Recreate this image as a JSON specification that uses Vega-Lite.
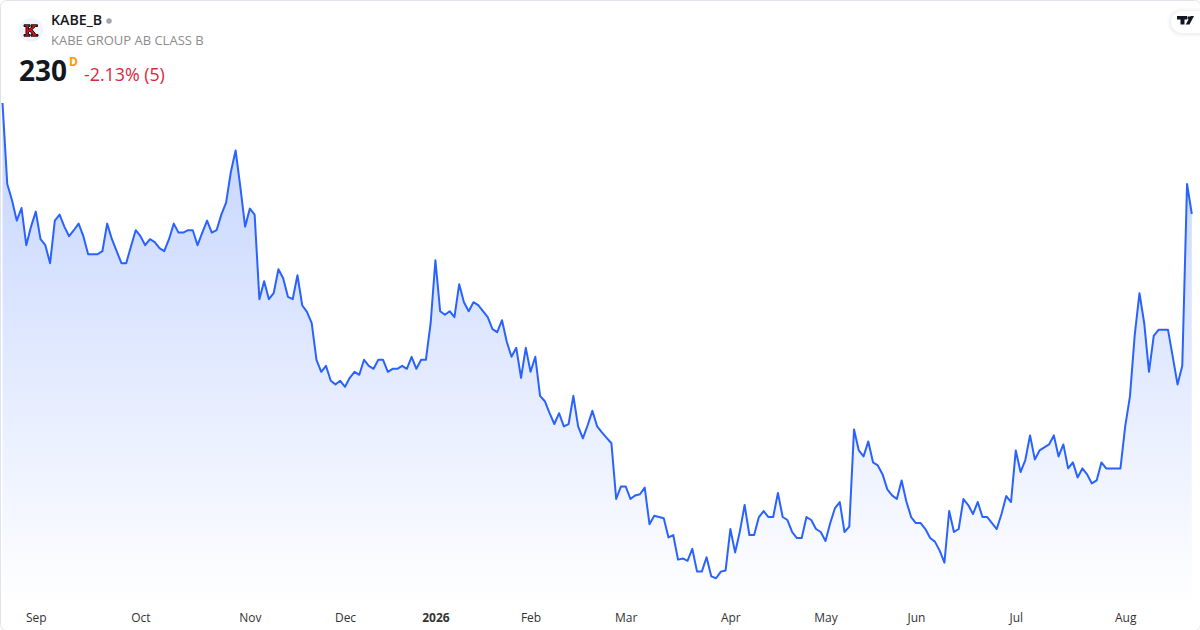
{
  "$schema": "https://vega.github.io/schema/vega-lite/v6.json",
  "width": 1200,
  "height": 630,
  "padding": 0,
  "autosize": "none",
  "background": "white",
  "config": {
    "view": {"stroke": "#e0e3eb", "cornerRadius": 6},
    "font": "Open Sans"
  },
  "datasets": {
    "prices": [
      {"date":"2025-08-21","close":248.5},{"date":"2025-08-22","close":235.0},{"date":"2025-08-25","close":232.3},{"date":"2025-08-26","close":228.9},{"date":"2025-08-27","close":231.0},{"date":"2025-08-28","close":224.8},{"date":"2025-08-29","close":227.9},
      {"date":"2025-09-01","close":230.4},{"date":"2025-09-02","close":225.8},{"date":"2025-09-03","close":224.8},{"date":"2025-09-04","close":221.8},{"date":"2025-09-05","close":228.9},{"date":"2025-09-08","close":229.9},{"date":"2025-09-09","close":227.9},{"date":"2025-09-10","close":226.3},{"date":"2025-09-11","close":227.3},{"date":"2025-09-12","close":228.4},{"date":"2025-09-15","close":226.3},{"date":"2025-09-16","close":223.3},{"date":"2025-09-17","close":223.3},{"date":"2025-09-18","close":223.3},{"date":"2025-09-19","close":223.8},{"date":"2025-09-22","close":228.4},{"date":"2025-09-23","close":225.8},{"date":"2025-09-24","close":223.8},{"date":"2025-09-25","close":221.8},{"date":"2025-09-26","close":221.8},{"date":"2025-09-29","close":224.6},{"date":"2025-09-30","close":227.3},
      {"date":"2025-10-01","close":226.3},{"date":"2025-10-02","close":224.8},{"date":"2025-10-03","close":225.8},{"date":"2025-10-06","close":225.3},{"date":"2025-10-07","close":224.3},{"date":"2025-10-08","close":223.8},{"date":"2025-10-09","close":225.8},{"date":"2025-10-10","close":228.4},{"date":"2025-10-13","close":226.9},{"date":"2025-10-14","close":226.9},{"date":"2025-10-15","close":227.3},{"date":"2025-10-16","close":227.3},{"date":"2025-10-17","close":224.8},{"date":"2025-10-20","close":226.9},{"date":"2025-10-21","close":228.9},{"date":"2025-10-22","close":226.9},{"date":"2025-10-23","close":227.3},{"date":"2025-10-24","close":229.9},{"date":"2025-10-27","close":231.9},{"date":"2025-10-28","close":237.0},{"date":"2025-10-29","close":240.6},{"date":"2025-10-30","close":234.5},{"date":"2025-10-31","close":227.9},
      {"date":"2025-11-03","close":230.9},{"date":"2025-11-04","close":229.9},{"date":"2025-11-05","close":215.8},{"date":"2025-11-06","close":218.8},{"date":"2025-11-07","close":215.8},{"date":"2025-11-10","close":216.8},{"date":"2025-11-11","close":220.8},{"date":"2025-11-12","close":219.3},{"date":"2025-11-13","close":216.2},{"date":"2025-11-14","close":215.8},{"date":"2025-11-17","close":219.8},{"date":"2025-11-18","close":214.8},{"date":"2025-11-19","close":213.7},{"date":"2025-11-20","close":211.8},{"date":"2025-11-21","close":205.7},{"date":"2025-11-24","close":203.7},{"date":"2025-11-25","close":204.7},{"date":"2025-11-26","close":202.2},{"date":"2025-11-27","close":201.6},{"date":"2025-11-28","close":202.2},
      {"date":"2025-12-01","close":201.2},{"date":"2025-12-02","close":202.7},{"date":"2025-12-03","close":203.7},{"date":"2025-12-04","close":203.2},{"date":"2025-12-05","close":205.7},{"date":"2025-12-08","close":204.7},{"date":"2025-12-09","close":204.2},{"date":"2025-12-10","close":205.7},{"date":"2025-12-11","close":205.7},{"date":"2025-12-12","close":203.7},{"date":"2025-12-15","close":204.2},{"date":"2025-12-16","close":204.2},{"date":"2025-12-17","close":204.7},{"date":"2025-12-18","close":204.2},{"date":"2025-12-19","close":206.2},{"date":"2025-12-22","close":204.2},{"date":"2025-12-23","close":205.7},{"date":"2025-12-29","close":205.7},{"date":"2025-12-30","close":211.8},
      {"date":"2026-01-02","close":222.3},{"date":"2026-01-05","close":213.8},{"date":"2026-01-07","close":213.2},{"date":"2026-01-08","close":213.8},{"date":"2026-01-09","close":212.8},{"date":"2026-01-12","close":218.3},{"date":"2026-01-13","close":215.3},{"date":"2026-01-14","close":213.8},{"date":"2026-01-15","close":215.3},{"date":"2026-01-16","close":214.8},{"date":"2026-01-19","close":213.8},{"date":"2026-01-20","close":212.8},{"date":"2026-01-21","close":210.8},{"date":"2026-01-22","close":210.3},{"date":"2026-01-23","close":212.3},{"date":"2026-01-26","close":208.7},{"date":"2026-01-27","close":206.2},{"date":"2026-01-28","close":207.7},{"date":"2026-01-29","close":202.7},{"date":"2026-01-30","close":207.7},
      {"date":"2026-02-02","close":203.7},{"date":"2026-02-03","close":206.2},{"date":"2026-02-04","close":199.7},{"date":"2026-02-05","close":198.8},{"date":"2026-02-06","close":196.8},{"date":"2026-02-09","close":195.0},{"date":"2026-02-10","close":196.8},{"date":"2026-02-11","close":194.6},{"date":"2026-02-12","close":195.0},{"date":"2026-02-13","close":199.7},{"date":"2026-02-16","close":194.6},{"date":"2026-02-17","close":192.6},{"date":"2026-02-18","close":194.8},{"date":"2026-02-19","close":197.2},{"date":"2026-02-20","close":194.6},{"date":"2026-02-23","close":193.6},{"date":"2026-02-24","close":192.7},{"date":"2026-02-25","close":191.8},{"date":"2026-02-26","close":182.5},{"date":"2026-02-27","close":184.6},
      {"date":"2026-03-02","close":184.6},{"date":"2026-03-03","close":182.5},{"date":"2026-03-04","close":183.1},{"date":"2026-03-05","close":183.3},{"date":"2026-03-06","close":184.4},{"date":"2026-03-09","close":178.3},{"date":"2026-03-10","close":179.7},{"date":"2026-03-11","close":179.5},{"date":"2026-03-12","close":179.3},{"date":"2026-03-13","close":176.1},{"date":"2026-03-16","close":176.5},{"date":"2026-03-17","close":172.4},{"date":"2026-03-18","close":172.6},{"date":"2026-03-19","close":172.2},{"date":"2026-03-20","close":174.2},{"date":"2026-03-23","close":170.4},{"date":"2026-03-24","close":170.4},{"date":"2026-03-25","close":172.8},{"date":"2026-03-26","close":169.6},{"date":"2026-03-27","close":169.3},{"date":"2026-03-30","close":170.4},{"date":"2026-03-31","close":170.6},
      {"date":"2026-04-01","close":177.5},{"date":"2026-04-02","close":173.6},{"date":"2026-04-07","close":177.1},{"date":"2026-04-08","close":181.5},{"date":"2026-04-09","close":176.5},{"date":"2026-04-10","close":176.5},{"date":"2026-04-13","close":179.5},{"date":"2026-04-14","close":180.5},{"date":"2026-04-15","close":179.5},{"date":"2026-04-16","close":179.5},{"date":"2026-04-17","close":183.5},{"date":"2026-04-20","close":179.5},{"date":"2026-04-21","close":179.0},{"date":"2026-04-22","close":177.0},{"date":"2026-04-23","close":176.0},{"date":"2026-04-24","close":176.0},{"date":"2026-04-27","close":179.5},{"date":"2026-04-28","close":179.0},{"date":"2026-04-29","close":177.5},{"date":"2026-04-30","close":177.0},
      {"date":"2026-05-04","close":175.5},{"date":"2026-05-05","close":178.5},{"date":"2026-05-06","close":181.0},{"date":"2026-05-07","close":182.0},{"date":"2026-05-08","close":177.0},{"date":"2026-05-11","close":177.9},{"date":"2026-05-12","close":194.1},{"date":"2026-05-13","close":190.6},{"date":"2026-05-15","close":189.6},{"date":"2026-05-18","close":192.1},{"date":"2026-05-19","close":188.6},{"date":"2026-05-20","close":188.1},{"date":"2026-05-21","close":186.6},{"date":"2026-05-22","close":184.1},{"date":"2026-05-25","close":183.1},{"date":"2026-05-26","close":182.5},{"date":"2026-05-27","close":185.6},{"date":"2026-05-28","close":182.1},{"date":"2026-05-29","close":179.5},
      {"date":"2026-06-01","close":178.5},{"date":"2026-06-02","close":178.5},{"date":"2026-06-03","close":177.5},{"date":"2026-06-04","close":176.0},{"date":"2026-06-05","close":175.4},{"date":"2026-06-08","close":173.9},{"date":"2026-06-09","close":171.9},{"date":"2026-06-10","close":180.5},{"date":"2026-06-11","close":177.0},{"date":"2026-06-12","close":177.5},{"date":"2026-06-15","close":182.5},{"date":"2026-06-16","close":181.5},{"date":"2026-06-17","close":180.0},{"date":"2026-06-18","close":182.0},{"date":"2026-06-22","close":179.5},{"date":"2026-06-23","close":179.5},{"date":"2026-06-24","close":178.5},{"date":"2026-06-25","close":177.5},{"date":"2026-06-26","close":180.0},{"date":"2026-06-29","close":183.0},{"date":"2026-06-30","close":182.0},
      {"date":"2026-07-01","close":190.6},{"date":"2026-07-02","close":187.0},{"date":"2026-07-03","close":189.0},{"date":"2026-07-06","close":193.1},{"date":"2026-07-07","close":189.1},{"date":"2026-07-08","close":190.6},{"date":"2026-07-09","close":191.1},{"date":"2026-07-10","close":191.6},{"date":"2026-07-13","close":193.1},{"date":"2026-07-14","close":189.6},{"date":"2026-07-15","close":191.6},{"date":"2026-07-16","close":187.6},{"date":"2026-07-17","close":188.6},{"date":"2026-07-20","close":186.1},{"date":"2026-07-21","close":187.6},{"date":"2026-07-22","close":186.6},{"date":"2026-07-23","close":185.1},{"date":"2026-07-24","close":185.6},{"date":"2026-07-27","close":188.6},{"date":"2026-07-28","close":187.6},{"date":"2026-07-29","close":187.6},{"date":"2026-07-30","close":187.6},{"date":"2026-07-31","close":187.6},
      {"date":"2026-08-03","close":194.6},{"date":"2026-08-04","close":199.6},{"date":"2026-08-05","close":209.8},{"date":"2026-08-06","close":216.8},{"date":"2026-08-07","close":211.8},{"date":"2026-08-10","close":203.7},{"date":"2026-08-11","close":209.7},{"date":"2026-08-12","close":210.7},{"date":"2026-08-13","close":210.7},{"date":"2026-08-14","close":210.7},{"date":"2026-08-17","close":206.2},{"date":"2026-08-18","close":201.6},{"date":"2026-08-19","close":204.7},{"date":"2026-08-20","close":235.0},{"date":"2026-08-21","close":230.0}
    ],
    "header": [
      {"symbol": "KABE_B", "name": "KABE GROUP AB CLASS B", "price": "230", "interval": "D", "change": "-2.13% (5)"}
    ]
  },
  "layer": [
    {
      "data": {"name": "prices"},
      "mark": {
        "type": "area",
        "fill": {
          "x1": 0, "y1": 0, "x2": 0, "y2": 1,
          "gradient": "linear",
          "stops": [
            {"offset": 0, "color": "rgba(41,98,255,0.28)"},
            {"offset": 1, "color": "rgba(41,98,255,0)"}
          ]
        }
      },
      "encoding": {
        "x": {
          "field": "date",
          "type": "ordinal",
          "sort": null,
          "scale": {"type": "point", "range": [2.5, 1191.8], "padding": 0},
          "axis": {
            "title": null,
            "domain": false,
            "ticks": false,
            "grid": false,
            "labelAngle": 0,
            "labelOverlap": false,
            "labelPadding": -13,
            "labelBaseline": "middle",
            "labelFontSize": 12,
            "labelColor": "#333333",
            "labelFont": "Open Sans",
            "labelFontWeight": {"condition": {"test": "datum.value == '2026-01-02'", "value": "bold"}, "value": "normal"},
            "values": ["2025-09-01","2025-10-01","2025-11-03","2025-12-01","2026-01-02","2026-02-02","2026-03-02","2026-04-01","2026-05-04","2026-06-01","2026-07-01","2026-08-03"],
            "labelExpr": "{'2025-09-01':'Sep','2025-10-01':'Oct','2025-11-03':'Nov','2025-12-01':'Dec','2026-01-02':'2026','2026-02-02':'Feb','2026-03-02':'Mar','2026-04-01':'Apr','2026-05-04':'May','2026-06-01':'Jun','2026-07-01':'Jul','2026-08-03':'Aug'}[datum.value]"
          }
        },
        "y": {
          "field": "close",
          "type": "quantitative",
          "scale": {"domain": [160.67, 265.67], "zero": false, "nice": false},
          "axis": null
        },
        "y2": {"datum": 164.6}
      }
    },
    {
      "data": {"name": "prices"},
      "mark": {"type": "line", "color": "#2962ff", "strokeWidth": 2, "strokeJoin": "round"},
      "encoding": {
        "x": {"field": "date", "type": "ordinal", "sort": null},
        "y": {"field": "close", "type": "quantitative"}
      }
    },
    {
      "data": {"name": "header"},
      "mark": {"type": "point", "shape": "circle", "filled": true, "opacity": 1, "color": "#f0f3fa", "size": 576, "x": 31, "y": 30},
      "encoding": {}
    },
    {
      "data": {"name": "header"},
      "mark": {
        "type": "point",
        "filled": true,
        "opacity": 1,
        "fill": "#d8111c",
        "stroke": "#111111",
        "strokeWidth": 1,
        "size": 100,
        "x": 31,
        "y": 30.5,
        "shape": "M-1.4,-1.14H-0.2V-0.8H-0.5V-0.2L0.3,-0.8H0V-1.14H1.3V-0.8H0.9L0.2,-0.2L1.0,0.8H1.4V1.14H0V0.8H0.3L-0.2,0.1L-0.5,0.3V0.8H-0.2V1.14H-1.4V0.8H-1V-0.8H-1.4Z"
      },
      "encoding": {}
    },
    {
      "data": {"name": "header"},
      "mark": {"type": "text", "x": 51, "y": 21, "align": "left", "baseline": "middle", "fontSize": 14.2, "fontWeight": 600, "color": "#131722"},
      "encoding": {"text": {"field": "symbol"}}
    },
    {
      "data": {"name": "header"},
      "mark": {"type": "point", "shape": "circle", "filled": true, "opacity": 1, "color": "#a3a6af", "size": 30, "x": 109, "y": 21},
      "encoding": {}
    },
    {
      "data": {"name": "header"},
      "mark": {"type": "text", "x": 51, "y": 40.5, "align": "left", "baseline": "middle", "fontSize": 13, "color": "#8c8c8c"},
      "encoding": {"text": {"field": "name"}}
    },
    {
      "data": {"name": "header"},
      "mark": {"type": "text", "x": 19, "y": 73, "align": "left", "baseline": "middle", "fontSize": 28, "fontWeight": "bold", "color": "#131722"},
      "encoding": {"text": {"field": "price"}}
    },
    {
      "data": {"name": "header"},
      "mark": {"type": "text", "x": 69, "y": 62, "align": "left", "baseline": "middle", "fontSize": 12, "fontWeight": "bold", "color": "#ff9800"},
      "encoding": {"text": {"field": "interval"}}
    },
    {
      "data": {"name": "header"},
      "mark": {"type": "text", "x": 84, "y": 76, "align": "left", "baseline": "middle", "fontSize": 17.8, "color": "#d6293e"},
      "encoding": {"text": {"field": "change"}}
    },
    {
      "data": {"name": "header"},
      "mark": {"type": "rect", "fill": "#000000", "opacity": 0.02, "cornerRadius": 14},
      "encoding": {"x": {"value": 1167}, "x2": {"value": 1215}, "y": {"value": 8}, "y2": {"value": 37}}
    },
    {
      "data": {"name": "header"},
      "mark": {"type": "rect", "fill": "#000000", "opacity": 0.03, "cornerRadius": 12},
      "encoding": {"x": {"value": 1169}, "x2": {"value": 1215}, "y": {"value": 10}, "y2": {"value": 35}}
    },
    {
      "data": {"name": "header"},
      "mark": {"type": "rect", "fill": "white", "cornerRadius": 11},
      "encoding": {"x": {"value": 1171}, "x2": {"value": 1215}, "y": {"value": 11}, "y2": {"value": 33}}
    },
    {
      "data": {"name": "header"},
      "mark": {
        "type": "point",
        "filled": true,
        "opacity": 1,
        "color": "#131722",
        "size": 400,
        "x": 1185.5,
        "y": 20.5,
        "shape": "M-0.85,-0.45H0.15V-0.1H-0.1V0.4H-0.5V-0.1H-0.85ZM0.2,-0.4H0.45V-0.12H0.2ZM0.5,-0.45H0.85L0.4,0.4H0.02Z"
      },
      "encoding": {}
    }
  ]
}
